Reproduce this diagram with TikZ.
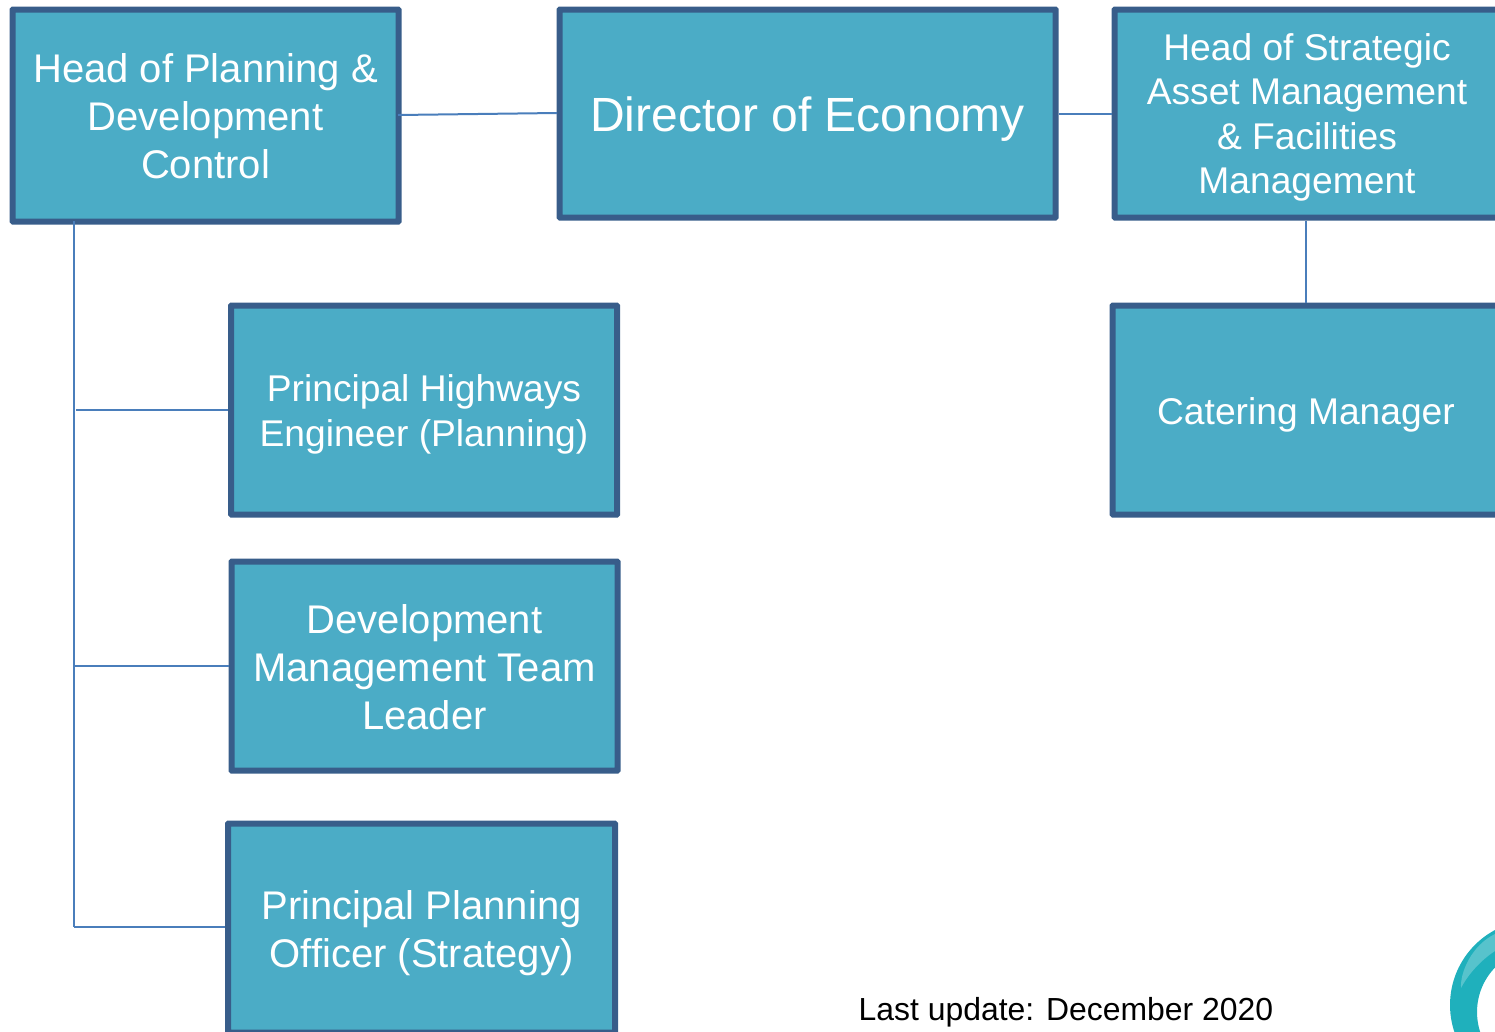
\documentclass[tikz,border=0pt]{standalone}
\usepackage{fontspec}
\setmainfont{Liberation Sans}
\usepackage{tikz}

\definecolor{boxfill}{HTML}{4BACC6}
\definecolor{boxline}{HTML}{385D8A}
\definecolor{linkline}{HTML}{4A7EBB}
\definecolor{ringteal}{HTML}{1FB0BC}

\begin{document}
\begin{tikzpicture}[x=1pt,y=-1pt,
    post/.style={draw=boxline,line width=6pt,fill=boxfill,inner sep=0pt,rounded corners=0.5pt},
    words/.style={text=white,align=center,inner sep=0pt},
    big/.style={words,font=\fontsize{40}{48}\selectfont},
    mid/.style={words,font=\fontsize{37.2}{44.5}\selectfont},
    link/.style={draw=linkline,line width=2pt}]
      \useasboundingbox (0,0) rectangle (1495,1031);
      \clip (0,0) rectangle (1495,1031);
      \node [post,minimum width=386pt,minimum height=212pt,label={[big,yshift=-1pt]center:{Head of Planning \&\\Development\\Control}}] (head) at (205.5,115.5) {};
      \node [post,minimum width=496pt,minimum height=208pt,label={[words,yshift=-6pt,font=\fontsize{48}{56}\selectfont]center:{Director of Economy}}] (director) at (807.5,113.5) {};
      \node [post,minimum width=385pt,minimum height=208pt,label={[mid,yshift=-4pt]center:{Head of Strategic\\Asset Management\\\& Facilities\\Management}}] (strategic) at (1307,113.5) {};
      \node [post,minimum width=386pt,minimum height=209pt,label={[mid,yshift=-4.5pt]center:{Principal Highways\\Engineer (Planning)}}] (highways) at (424,410) {};
      \node [post,minimum width=387pt,minimum height=209pt,label={[mid,yshift=-5pt]center:{Catering Manager}}] (catering) at (1306,410) {};
      \node [post,minimum width=386pt,minimum height=209pt,label={[big,yshift=-1pt]center:{Development\\Management Team\\Leader}}] (devteam) at (424.5,666) {};
      \node [post,minimum width=387pt,minimum height=209pt,label={[big,yshift=-5pt]center:{Principal Planning\\Officer (Strategy)}}] (strategy) at (421.5,928) {};
      \node [text=black,font=\fontsize{31.9}{40}\selectfont,anchor=west,inner sep=0pt] (update) at (858.5,1012) {Last update: December 2020};
      \coordinate (top) at (74,221);
      \coordinate (a) at (76,410);
      \coordinate (b) at (74,665.5);
      \coordinate (c) at (74,927);
      \coordinate (hr) at (398,115);
      \coordinate (dl) at (557,113);
      \draw [link] (top) -- (c); % spine
      \draw [link] (a) -- (highways.west |- a); % spine -> highways
      \draw [link] (b) -- (devteam.west |- b); % spine -> team leader
      \draw [link] (c) -- (strategy.west |- c); % spine -> strategy
      \draw [link] (hr) -- (dl); % head -> director
      \draw [link] (director.east) -- (strategic.west |- director.east); % director -> strategic
      \draw [link] (strategic.south -| catering.north) -- (catering.north); % strategic -> catering
      % logo
      \fill [ringteal,even odd rule] (1535,1005) circle (85) (1541,1012) circle (64);
      \fill [white,opacity=0.25] (1495,934) .. controls (1472,945) and (1460,972) .. (1461,988) .. controls (1466,978) and (1478,962) .. (1495,951) -- cycle;
    \end{tikzpicture}
\end{document}
